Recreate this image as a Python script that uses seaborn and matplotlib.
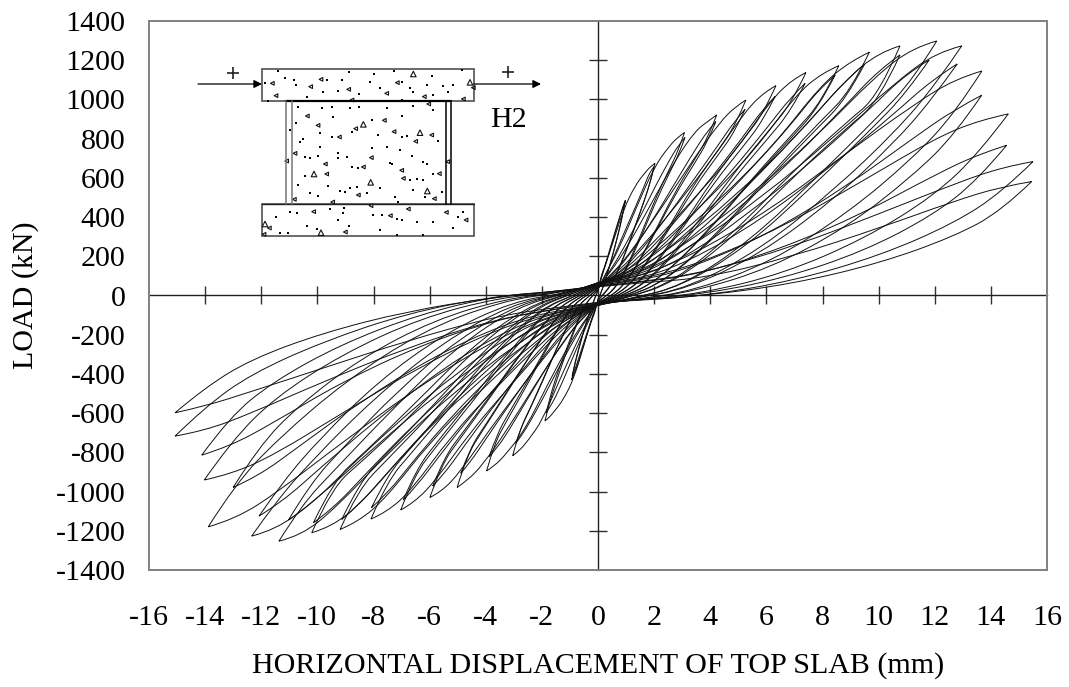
import numpy as np
import pandas as pd
import seaborn as sns
import matplotlib
matplotlib.use("Agg")
import matplotlib.pyplot as plt
from matplotlib.patches import Rectangle, PathPatch
from matplotlib.path import Path

# load cycles, each level has a first run and a repeat run
fractions = [0.1, 0.25, 0.45, 0.65, 0.82, 0.93]

hub_top = [25, 25, 30, 30, 35, 35, 40, 40, 45, 45, 50, 50, 55, 55, 60, 60, 60, 60, 65, 65, 65, 65, 60, 60, 55, 55, 50, 50, 45, 45]
hub_bottom = [-20, -20, -25, -25, -30, -30, -35, -35, -40, -40, -40, -40, -45, -45, -45, -45, -50, -50, -50, -50, -50, -50, -45, -45, -45, -45, -40, -40, -35, -35]

pos_peak_x = [0.98, 0.97, 2.03, 2.0, 3.08, 3.1, 4.23, 4.2, 5.27, 5.24, 6.34, 6.31, 7.41, 7.38, 8.58, 8.45,
              9.67, 9.5, 10.76, 10.76, 12.07, 11.8, 12.96, 12.8, 13.68, 13.67, 14.62, 14.56, 15.5, 15.45]
pos_peak_y = [487, 479, 674, 657, 831, 806, 921, 887, 997, 950, 1070, 1015, 1137, 1082, 1172, 1124,
              1241, 1180, 1273, 1227, 1298, 1201, 1273, 1181, 1145, 1021, 926, 766, 683, 581]
pos_far = [
    [95, 150, 245, 340, 415, 465], [90, 145, 235, 330, 405, 455],
    [130, 260, 440, 560, 625, 660], [85, 175, 310, 440, 555, 635],
    [120, 245, 455, 655, 760, 810], [100, 205, 370, 550, 690, 770],
    [115, 250, 470, 690, 840, 890], [95, 190, 370, 570, 740, 840],
    [110, 250, 470, 700, 880, 965], [90, 190, 380, 590, 770, 890],
    [110, 250, 470, 705, 930, 1035], [90, 190, 390, 610, 810, 950],
    [105, 250, 480, 720, 980, 1100], [85, 190, 400, 640, 860, 1010],
    [105, 250, 480, 740, 1020, 1135], [85, 190, 400, 650, 880, 1050],
    [105, 250, 490, 770, 1070, 1195], [85, 185, 410, 680, 930, 1100],
    [105, 250, 500, 800, 1100, 1240], [85, 185, 420, 700, 970, 1150],
    [100, 250, 510, 820, 1120, 1265], [80, 180, 410, 690, 950, 1130],
    [100, 240, 500, 810, 1090, 1240], [75, 170, 380, 660, 920, 1100],
    [90, 210, 440, 730, 970, 1105], [70, 145, 320, 560, 800, 950],
    [80, 165, 350, 590, 800, 895], [65, 110, 240, 420, 610, 720],
    [70, 120, 250, 420, 570, 655], [65, 90, 200, 345, 480, 555],
]
pos_near = [
    [10, 70, 165, 270, 365, 440], [10, 68, 160, 262, 355, 430],
    [5, 60, 190, 350, 490, 590], [10, 60, 190, 345, 480, 575],
    [-5, 70, 260, 480, 640, 740], [-5, 65, 250, 465, 625, 720],
    [-10, 75, 290, 530, 700, 810], [-10, 70, 280, 510, 675, 785],
    [-10, 80, 310, 570, 750, 870], [-10, 75, 295, 545, 720, 835],
    [-10, 80, 320, 600, 800, 930], [-10, 75, 305, 570, 760, 890],
    [-10, 80, 330, 620, 840, 980], [-10, 75, 310, 590, 800, 940],
    [-10, 75, 320, 610, 840, 990], [-10, 75, 305, 590, 810, 960],
    [-10, 75, 330, 640, 890, 1040], [-10, 70, 310, 610, 850, 1000],
    [-10, 70, 320, 640, 880, 1020], [-10, 65, 300, 610, 850, 990],
    [-15, 50, 280, 610, 900, 1100], [-15, 45, 250, 560, 840, 1030],
    [-15, 40, 240, 540, 840, 1080], [-15, 35, 210, 480, 770, 1000],
    [-20, 25, 170, 420, 700, 930], [-20, 20, 140, 350, 610, 820],
    [-20, 10, 110, 290, 510, 730], [-22, 5, 85, 225, 410, 590],
    [-25, 0, 75, 205, 370, 530], [-22, 0, 60, 165, 300, 430],
]

neg_peak_x = [-0.94, -0.92, -1.89, -1.85, -3.04, -2.93, -3.97, -3.88, -5.02, -4.89, -5.99, -5.89, -7.03, -6.94, -8.09, -8.07,
              -9.19, -9.13, -10.2, -10.14, -11.37, -11.03, -12.34, -12.08, -13.89, -13.0, -14.03, -14.12, -15.07, -15.07]
neg_peak_y = [-431, -410, -640, -600, -817, -754, -895, -822, -979, -907, -1030, -972, -1094, -1043, -1140, -1082,
              -1193, -1142, -1210, -1159, -1253, -1145, -1227, -1125, -1180, -979, -941, -814, -717, -598]
neg_far = [
    [-80, -130, -215, -300, -370, -410], [-75, -120, -200, -280, -350, -390],
    [-100, -240, -420, -530, -590, -625], [-85, -170, -295, -420, -520, -570],
    [-110, -240, -430, -635, -740, -795], [-95, -195, -345, -510, -640, -715],
    [-110, -240, -450, -680, -805, -870], [-90, -180, -345, -530, -690, -780],
    [-105, -240, -460, -690, -865, -945], [-90, -180, -360, -560, -735, -850],
    [-105, -240, -460, -690, -900, -1000], [-85, -180, -370, -585, -780, -910],
    [-100, -240, -465, -700, -940, -1055], [-85, -180, -380, -610, -825, -970],
    [-100, -240, -470, -720, -990, -1105], [-85, -180, -385, -620, -850, -1010],
    [-100, -240, -475, -745, -1030, -1155], [-80, -180, -395, -655, -900, -1065],
    [-100, -240, -480, -760, -1050, -1180], [-80, -175, -395, -660, -915, -1085],
    [-95, -240, -490, -790, -1080, -1225], [-80, -170, -385, -650, -900, -1070],
    [-90, -230, -480, -780, -1050, -1195], [-75, -160, -360, -630, -880, -1050],
    [-85, -210, -450, -740, -1000, -1140], [-70, -140, -310, -540, -770, -920],
    [-80, -165, -360, -600, -810, -910], [-65, -120, -255, -445, -650, -770],
    [-70, -125, -265, -440, -600, -690], [-60, -110, -230, -370, -490, -565],
]
neg_near = [
    [-5, -60, -140, -235, -320, -385], [-5, -60, -135, -225, -305, -365],
    [0, -50, -180, -330, -465, -560], [0, -45, -165, -300, -425, -525],
    [0, -60, -235, -440, -600, -700], [0, -55, -220, -410, -570, -665],
    [5, -65, -260, -470, -640, -755], [5, -60, -240, -440, -600, -710],
    [5, -70, -270, -500, -690, -815], [5, -65, -255, -475, -660, -775],
    [5, -70, -285, -530, -730, -860], [5, -65, -270, -510, -700, -825],
    [5, -70, -300, -560, -770, -915], [5, -65, -275, -530, -740, -880],
    [5, -70, -290, -570, -800, -950], [5, -65, -270, -540, -770, -915],
    [10, -70, -310, -610, -840, -990], [10, -60, -285, -570, -800, -950],
    [10, -65, -300, -610, -840, -980], [10, -55, -270, -560, -800, -945],
    [10, -55, -270, -590, -880, -1070], [10, -40, -220, -490, -770, -960],
    [10, -45, -240, -530, -830, -1050], [10, -30, -190, -440, -730, -950],
    [15, -30, -180, -440, -730, -960], [15, -15, -125, -320, -560, -770],
    [15, -10, -115, -300, -520, -740], [20, 0, -95, -250, -440, -620],
    [20, -5, -90, -235, -400, -570], [20, -10, -80, -190, -325, -470],
]

x_ticks = list(range(-16, 17, 2))
y_ticks = list(range(-1400, 1401, 200))

# specimen sketch, positions at 3x
tri_small = [(367, 190), (513, 178), (482, 200), (742, 188), (596, 208), (710, 220), (378, 227), (823, 230), (606, 240),
             (940, 237), (836, 252), (970, 203), (472, 288), (504, 316), (617, 326), (703, 301), (732, 335), (845, 345),
             (797, 364), (568, 351), (435, 400), (410, 423), (893, 425), (664, 413), (526, 432), (640, 441), (755, 451),
             (530, 462), (868, 461), (760, 475), (853, 536), (625, 525), (433, 538), (548, 546), (663, 557), (775, 567),
             (491, 575), (721, 587), (889, 577), (948, 600), (358, 624), (586, 636), (342, 643)]
tri_large = [(790, 162), (960, 187), (640, 313), (810, 338), (492, 462), (662, 487), (832, 513), (345, 612), (513, 638)]
dots = [(385, 152), (598, 155), (672, 162), (733, 153), (845, 168), (937, 150), (405, 175), (433, 180), (437, 195), (530, 180),
        (575, 180), (660, 187), (690, 205), (757, 187), (780, 205), (830, 195), (880, 198), (910, 195), (345, 190), (565, 213),
        (628, 222), (520, 215), (470, 230), (790, 215), (848, 225), (893, 215), (355, 242), (755, 240), (445, 262), (515, 265),
        (545, 262), (600, 265), (628, 262), (712, 265), (790, 258), (850, 270), (550, 290), (757, 288), (437, 310), (450, 365),
        (510, 340), (545, 350), (605, 335), (665, 300), (685, 345), (710, 380), (755, 350), (770, 348), (865, 362), (420, 330),
        (460, 358), (510, 380), (665, 385), (750, 390), (720, 430), (785, 408), (820, 425), (830, 432), (465, 410), (480, 415),
        (505, 408), (565, 400), (565, 415), (590, 410), (605, 442), (625, 445), (725, 432), (850, 462), (465, 468), (445, 495),
        (535, 498), (600, 505), (620, 500), (570, 512), (585, 515), (480, 520), (505, 527), (690, 503), (780, 480), (800, 478),
        (820, 480), (790, 510), (875, 515), (735, 530), (745, 545), (825, 530), (650, 520), (420, 575), (440, 578), (378, 590),
        (583, 565), (540, 568), (670, 585), (695, 585), (740, 597), (755, 600), (800, 605), (850, 605), (925, 592), (940, 575),
        (565, 600), (470, 618), (500, 628), (598, 618), (690, 630), (910, 625), (415, 640), (390, 640), (820, 645), (740, 645),
        (580, 580)]

# one long path per cycle: hub, + peak, back through hub, - peak, back to hub
rows = []
for c in range(len(pos_peak_x)):
    path_x = [0.0]
    path_y = [hub_top[c]]
    path_x += [f * pos_peak_x[c] for f in fractions] + [pos_peak_x[c]]
    path_y += pos_far[c] + [pos_peak_y[c]]
    path_x += [f * pos_peak_x[c] for f in fractions[::-1]] + [0.0]
    path_y += pos_near[c][::-1] + [hub_bottom[c]]
    path_x += [f * neg_peak_x[c] for f in fractions] + [neg_peak_x[c]]
    path_y += neg_far[c] + [neg_peak_y[c]]
    path_x += [f * neg_peak_x[c] for f in fractions[::-1]] + [0.0]
    path_y += neg_near[c][::-1] + [hub_top[c]]
    for px, py in zip(path_x, path_y):
        rows.append({"cycle": c, "disp": px, "load": py})
df = pd.DataFrame(rows)

sns.set_theme(style="white")
plt.rcParams["font.family"] = ["Liberation Serif", "DejaVu Serif"]
plt.rcParams["axes.unicode_minus"] = False

fig = plt.figure(figsize=(10.69, 6.87), dpi=100)
ax = fig.add_axes([149 / 1069, 1 - 570 / 687, (1047 - 149) / 1069, (570 - 21) / 687])

sns.lineplot(data=df, x="disp", y="load", units="cycle", estimator=None, sort=False,
             color="#111111", linewidth=0.7, ax=ax, zorder=3)


# the read points are bezier controls, so branches come out round and peaks stay sharp
def curved(xy):
    verts = []
    codes = []
    for a in range(0, len(xy) - 1, 7):
        seg = xy[a:a + 8]
        verts.append(seg[0])
        codes.append(Path.MOVETO)
        for i in range(1, 7):
            end = seg[7] if i == 6 else (seg[i] + seg[i + 1]) / 2
            verts += [seg[i], end]
            codes += [Path.CURVE3, Path.CURVE3]
    return Path(verts, codes)


for line in list(ax.lines):
    ax.add_patch(PathPatch(curved(line.get_xydata()), fill=False, ec="#111111", lw=0.7, zorder=3))
    line.set_visible(False)

ax.set_xlim(-16, 16)
ax.set_ylim(-1400, 1400)
ax.set_xticks(x_ticks)
ax.set_yticks(y_ticks)
ax.tick_params(length=0, labelsize=21.6, colors="black")
ax.tick_params(axis="x", pad=25)
ax.tick_params(axis="y", pad=17)
ax.set_xlabel("HORIZONTAL DISPLACEMENT OF TOP SLAB (mm)", fontsize=21.6, color="black", va="center")
ax.set_ylabel("LOAD (kN)", fontsize=21.6, color="black", va="center")
ax.xaxis.set_label_coords(0.5, (570 - 666) / 549)
ax.yaxis.set_label_coords((26 - 149) / 898, 0.5)
for s in ax.spines.values():
    s.set_color("#808080")
    s.set_linewidth(1.4)

# cross in the middle with its own ticks
inner_x = ax.secondary_xaxis(0.5)
inner_x.set_xticks(x_ticks[1:8] + x_ticks[9:-1])
inner_x.tick_params(direction="inout", length=13, width=1.0, labelbottom=False, labeltop=False, color="#303030")
inner_y = ax.secondary_yaxis(0.5)
inner_y.set_yticks(y_ticks[1:7] + y_ticks[8:-1])
inner_y.tick_params(direction="inout", length=13, width=1.0, labelleft=False, labelright=False, color="#303030")
for sec in (inner_x, inner_y):
    for s in sec.spines.values():
        s.set_color("#202020")
        s.set_linewidth(1.0)

# sketch overlay in pixel units
sk = fig.add_axes([0, 0, 1, 1], facecolor="none")
sk.set_xlim(0, 1069)
sk.set_ylim(687, 0)
sk.axis("off")
edge = "#505050"
sk.add_patch(Rectangle((262, 69), 212, 32, fill=False, ec=edge, lw=1.2))
sk.add_patch(Rectangle((262, 204), 212, 32, fill=False, ec=edge, lw=1.2))
sk.plot([286, 451], [101, 101], color="black", lw=1.6)
sk.plot([262, 474], [204, 204], color="#222222", lw=1.0)
for xv, col in [(286, "#777777"), (291.5, "#777777"), (445.5, "black"), (450.5, "black")]:
    sk.plot([xv, xv], [101, 204], color=col, lw=1.1)
sk.annotate("", xy=(262, 84), xytext=(198, 84), arrowprops=dict(arrowstyle="-|>", color="black", lw=0.9, shrinkA=0, shrinkB=0))
sk.annotate("", xy=(541, 84), xytext=(474, 84), arrowprops=dict(arrowstyle="-|>", color="black", lw=0.9, shrinkA=0, shrinkB=0))
sk.plot([233], [73], marker="+", color="#222222", ms=9, mew=1.2)
sk.plot([508], [72], marker="+", color="#222222", ms=9, mew=1.2)
sk.text(490, 120, "H2", fontsize=21.6, va="center", ha="left", color="black")

dx = [150 + p[0] / 3 for p in dots]
dy = [20 + p[1] / 3 for p in dots]
sk.scatter(dx, dy, s=1.2, color="black", linewidths=0, marker="s")
tx = [150 + p[0] / 3 for p in tri_small]
ty = [20 + p[1] / 3 for p in tri_small]
sk.scatter(tx, ty, s=7, marker="<", facecolors="none", edgecolors="#111111", linewidths=0.8)
tx = [150 + p[0] / 3 for p in tri_large]
ty = [20 + p[1] / 3 for p in tri_large]
sk.scatter(tx, ty, s=16, marker="^", facecolors="none", edgecolors="#111111", linewidths=0.8)

fig.savefig("out.png", dpi=100, facecolor="white")
